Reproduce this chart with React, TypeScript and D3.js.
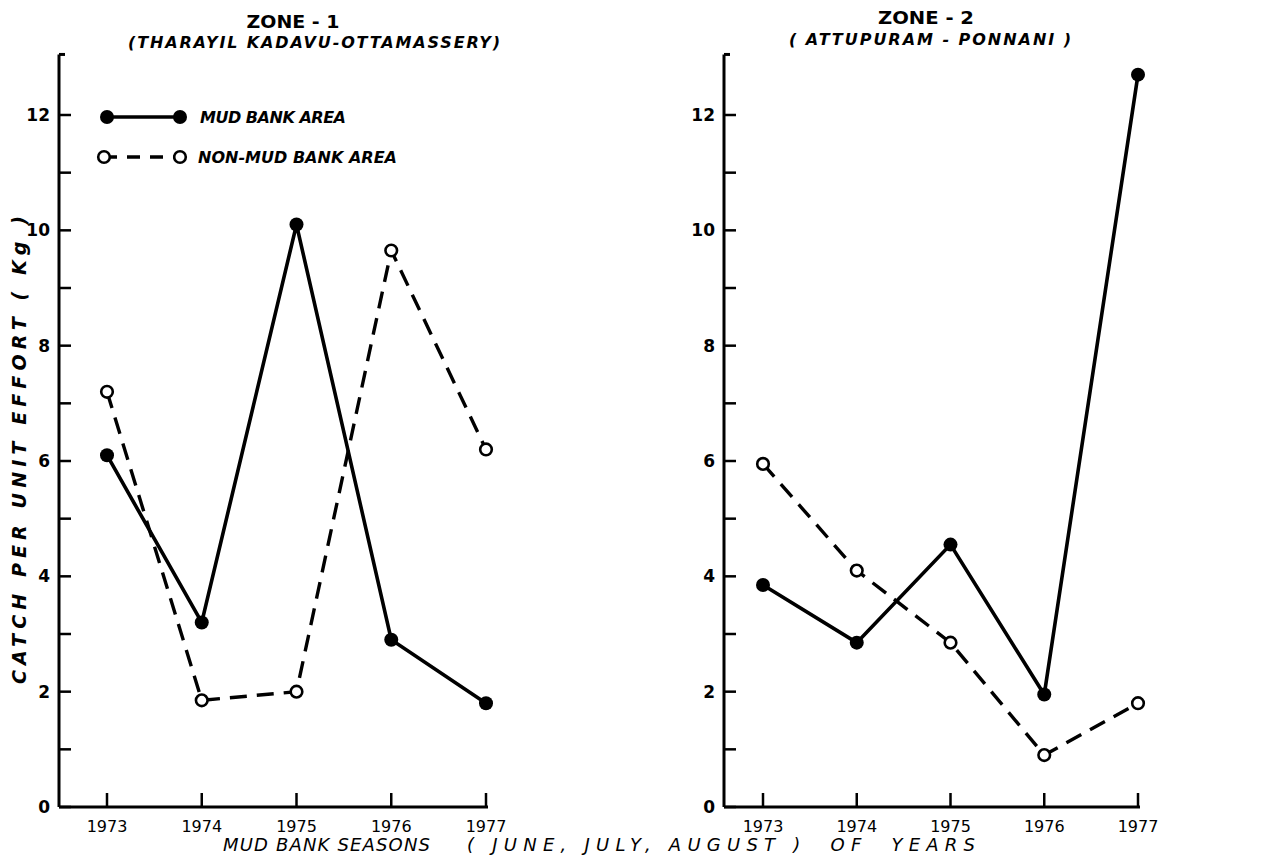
import React from "react";
import * as d3 from "d3";

const years = [1973, 1974, 1975, 1976, 1977];
const yTicks = [0, 2, 4, 6, 8, 10, 12];
const yMinor = [1, 3, 5, 7, 9, 11];

const zone1Mud = [6.1, 3.2, 10.1, 2.9, 1.8];
const zone1NonMud = [7.2, 1.85, 2.0, 9.65, 6.2];
const zone2Mud = [3.85, 2.85, 4.55, 1.95, 12.7];
const zone2NonMud = [5.95, 4.1, 2.85, 0.9, 1.8];

const W = 1275;
const H = 858;
const FONT = "'DejaVu Sans', sans-serif";

const y = d3.scaleLinear().domain([0, 12]).range([807, 115]);

type PanelProps = {
  axisX: number;
  x: d3.ScaleLinear<number, number>;
  mud: number[];
  nonMud: number[];
  labelX: number;
  xEnd: number;
};

const Panel = ({ axisX, x, mud, nonMud, labelX, xEnd }: PanelProps) => {
  const line = d3
    .line<number>()
    .x((_, i) => x(years[i]))
    .y(d => y(d));
  const top = y(13.05);
  return (
    <g>
      {/* y axis, ticks point inward */}
      <line x1={axisX} x2={axisX} y1={y(0)} y2={top} stroke="#000" strokeWidth={3} />
      <line x1={axisX} x2={axisX + 6} y1={top} y2={top} stroke="#000" strokeWidth={3} />
      {yTicks.concat(yMinor).map(t => (
        <line key={t} x1={axisX} x2={axisX + 12} y1={y(t)} y2={y(t)} stroke="#000" strokeWidth={2.5} />
      ))}
      {yTicks.map(t => (
        <text
          key={t}
          x={labelX}
          y={y(t) + 6}
          textAnchor="end"
          fontFamily={FONT}
          fontWeight="bold"
          fontSize={17}
        >
          {t}
        </text>
      ))}
      {/* x axis */}
      <line x1={axisX} x2={xEnd} y1={y(0)} y2={y(0)} stroke="#000" strokeWidth={3} />
      {years.map(yr => (
        <g key={yr}>
          <line x1={x(yr)} x2={x(yr)} y1={y(0)} y2={y(0) - 14} stroke="#000" strokeWidth={2.5} />
          <text x={x(yr)} y={y(0) + 25} textAnchor="middle" fontFamily={FONT} fontSize={16}>
            {yr}
          </text>
        </g>
      ))}
      {/* series */}
      <path d={line(nonMud) || ""} fill="none" stroke="#000" strokeWidth={3.4} strokeDasharray="17,10" />
      <path d={line(mud) || ""} fill="none" stroke="#000" strokeWidth={3.6} />
      {nonMud.map((v, i) => (
        <circle key={"n" + i} cx={x(years[i])} cy={y(v)} r={5.8} fill="#fff" stroke="#000" strokeWidth={2.6} />
      ))}
      {mud.map((v, i) => (
        <circle key={"m" + i} cx={x(years[i])} cy={y(v)} r={7} fill="#000" />
      ))}
    </g>
  );
};

export default function App() {
  const x1 = d3.scaleLinear().domain([1973, 1977]).range([107, 486]);
  const x2 = d3.scaleLinear().domain([1973, 1977]).range([763, 1138]);
  return (
    <svg
      width={W}
      height={H}
      style={{ position: "absolute", left: 0, top: 0, background: "#fff" }}
    >
      <rect width={W} height={H} fill="#fff" />
      <Panel axisX={59} x={x1} mud={zone1Mud} nonMud={zone1NonMud} labelX={50} xEnd={488} />
      <Panel axisX={724} x={x2} mud={zone2Mud} nonMud={zone2NonMud} labelX={715} xEnd={1140} />

      {/* titles */}
      <text x={293} y={28} textAnchor="middle" fontFamily={FONT} fontWeight="bold" fontSize={18} textLength={93} lengthAdjust="spacingAndGlyphs">
        ZONE - 1
      </text>
      <text x={314} y={48} textAnchor="middle" fontFamily={FONT} fontStyle="italic" fontWeight="bold" fontSize={16} textLength={372} lengthAdjust="spacing">
        (THARAYIL  KADAVU-OTTAMASSERY)
      </text>
      <text x={926} y={24} textAnchor="middle" fontFamily={FONT} fontWeight="bold" fontSize={18} textLength={96} lengthAdjust="spacingAndGlyphs">
        ZONE - 2
      </text>
      <text x={930} y={45} textAnchor="middle" fontFamily={FONT} fontStyle="italic" fontWeight="bold" fontSize={16} textLength={282} lengthAdjust="spacing">
        ( ATTUPURAM - PONNANI )
      </text>

      {/* legend */}
      <line x1={107} x2={180} y1={117} y2={117} stroke="#000" strokeWidth={3.6} />
      <circle cx={107} cy={117} r={7} fill="#000" />
      <circle cx={180} cy={117} r={7} fill="#000" />
      <text x={200} y={123} fontFamily={FONT} fontStyle="italic" fontWeight="bold" fontSize={16} textLength={146} lengthAdjust="spacing">
        MUD BANK AREA
      </text>
      <line x1={104} x2={180} y1={157} y2={157} stroke="#000" strokeWidth={3.4} strokeDasharray="13,10" />
      <circle cx={104} cy={157} r={5.8} fill="#fff" stroke="#000" strokeWidth={2.6} />
      <circle cx={180} cy={157} r={5.8} fill="#fff" stroke="#000" strokeWidth={2.6} />
      <text x={198} y={163} fontFamily={FONT} fontStyle="italic" fontWeight="bold" fontSize={16} textLength={199} lengthAdjust="spacing">
        NON-MUD BANK AREA
      </text>

      {/* axis titles */}
      <text
        transform="translate(26,450) rotate(-90)"
        textAnchor="middle"
        fontFamily={FONT}
        fontStyle="italic"
        fontWeight="bold"
        fontSize={19}
        textLength={468}
        lengthAdjust="spacing"
      >
        CATCH PER UNIT EFFORT ( Kg )
      </text>
      <text x={223} y={851} fontFamily={FONT} fontStyle="italic" fontSize={18} textLength={207} lengthAdjust="spacing">
        MUD BANK SEASONS
      </text>
      <text x={467} y={851} fontFamily={FONT} fontStyle="italic" fontSize={18} textLength={508} lengthAdjust="spacing" style={{ whiteSpace: "pre" }}>
        {"( JUNE, JULY, AUGUST )  OF  YEARS"}
      </text>
    </svg>
  );
}
